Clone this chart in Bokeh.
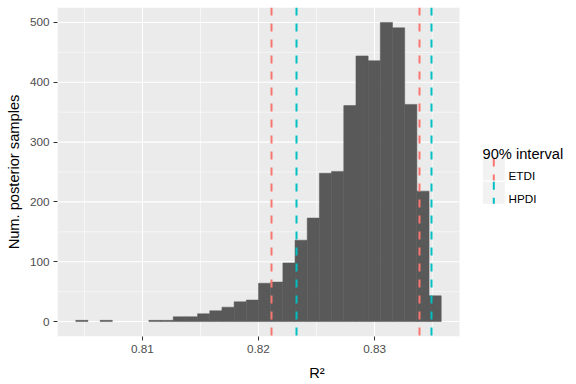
import numpy as np
from bokeh.plotting import figure
from bokeh.models import Range1d, FixedTicker
from bokeh.embed import file_html
from bokeh.resources import INLINE
from bokeh.core.properties import value

# ---------------- data ----------------
BIN_START = 0.80427
BIN_WIDTH = 0.001049
COUNTS = [2, 0, 2, 0, 0, 0, 2, 2, 8, 8, 13, 18, 24, 33, 36, 64, 66, 98,
          136, 173, 248, 251, 361, 444, 436, 500, 491, 363, 218, 43]

INTERVAL_NAMES = ["ETDI", "HPDI"]
INTERVAL_COLORS = ["#F8766D", "#00BFC4"]
INTERVAL_LOWER = [0.82109, 0.82330]
INTERVAL_UPPER = [0.83384, 0.83487]

X_TICKS = [0.81, 0.82, 0.83]
X_MINOR = [0.805, 0.815, 0.825, 0.835]
Y_TICKS = [0, 100, 200, 300, 400, 500]
Y_MINOR = [50, 150, 250, 350, 450]
LEGEND_TITLE = "90% interval"
X_LABEL = "R²"
Y_LABEL = "Num. posterior samples"

FONT = "Liberation Sans"

# ---------------- layout sizes (pixels) ----------------
W, H = 576, 384
BORDER_L, BORDER_T, BORDER_B = 57, 7, 48
FRAME_W, FRAME_H = W - BORDER_L, H - BORDER_T - BORDER_B
PANEL_W = 402          # grey panel width, the rest of the frame holds the legend

# ---------------- scales ----------------
counts = np.array(COUNTS)
left = BIN_START + BIN_WIDTH * np.arange(len(COUNTS))
right = left + BIN_WIDTH
xmin, xmax = left[0], right[-1]
xpad = 0.05 * (xmax - xmin)
x_lo, x_hi = xmin - xpad, xmax + xpad
ymax = counts.max()

p = figure(width=W, height=H, output_backend="svg", toolbar_location=None,
           x_range=Range1d(x_lo, x_lo + (x_hi - x_lo) * FRAME_W / PANEL_W),
           y_range=Range1d(-0.05 * ymax, 1.05 * ymax),
           min_border_left=BORDER_L, min_border_right=0, min_border_top=BORDER_T,
           min_border_bottom=BORDER_B)
p.extra_x_ranges = {"px": Range1d(0, FRAME_W)}
p.extra_y_ranges = {"px": Range1d(FRAME_H, 0)}
p.background_fill_color = "white"
p.border_fill_color = "white"
p.outline_line_color = None

# grey panel
p.quad(left=[0], right=[PANEL_W], top=[0], bottom=[FRAME_H],
       x_range_name="px", y_range_name="px",
       fill_color="#EBEBEB", line_color=None, level="image")

# vertical grid lines (ticks all lie inside the panel)
p.xgrid.ticker = FixedTicker(ticks=X_TICKS, minor_ticks=X_MINOR)
p.xgrid.grid_line_color = "white"
p.xgrid.grid_line_width = 1.1
p.xgrid.minor_grid_line_color = "white"
p.xgrid.minor_grid_line_width = 0.55
# horizontal grid lines only across the panel
p.ygrid.visible = False
p.segment(x0=0, x1=PANEL_W, y0=Y_MINOR, y1=Y_MINOR, x_range_name="px",
          line_color="white", line_width=0.55, level="underlay")
p.segment(x0=0, x1=PANEL_W, y0=Y_TICKS, y1=Y_TICKS, x_range_name="px",
          line_color="white", line_width=1.1, level="underlay")

p.xaxis.ticker = FixedTicker(ticks=X_TICKS)
p.yaxis.ticker = FixedTicker(ticks=Y_TICKS)
for ax in (p.xaxis, p.yaxis):
    ax.axis_line_color = None
    ax.minor_tick_line_color = None
    ax.major_tick_in = 0
    ax.major_tick_out = 4
    ax.major_tick_line_color = "#333333"
    ax.major_label_text_font = FONT
    ax.major_label_text_font_size = "11.73px"
    ax.major_label_text_color = "#4D4D4D"
    ax.axis_label_text_font = FONT
    ax.axis_label_text_font_size = "14.67px"
    ax.axis_label_text_font_style = "normal"
    ax.axis_label_text_color = "black"
p.xaxis.axis_label = X_LABEL
p.yaxis.axis_label = Y_LABEL
p.xaxis.major_label_standoff = 4
p.xaxis.axis_label_standoff = 9
p.yaxis.major_label_standoff = 4
p.yaxis.axis_label_standoff = 5

# histogram: only non-empty bins (thin same-colour outline hides seams)
nz = counts > 0
p.quad(left=left[nz], right=right[nz], top=counts[nz], bottom=0,
       fill_color="#595959", line_color="#595959", line_width=0.5)

# interval lines
for lo, hi, col in zip(INTERVAL_LOWER, INTERVAL_UPPER, INTERVAL_COLORS):
    p.vspan(x=[lo, hi], line_color=col, line_width=2, line_dash="8 8")

# ---------------- legend (frame pixel coordinates) ----------------
KEY = 22
key_x0 = PANEL_W + 23.3
key_tops = [151 + i * (KEY + 1.3) for i in range(len(INTERVAL_NAMES))]
p.quad(left=key_x0, right=key_x0 + KEY,
       top=key_tops, bottom=[t + KEY for t in key_tops],
       x_range_name="px", y_range_name="px",
       fill_color="#F2F2F2", line_color=None)
p.segment(x0=key_x0 + KEY / 2, x1=key_x0 + KEY / 2,
          y0=key_tops, y1=[t + KEY for t in key_tops],
          x_range_name="px", y_range_name="px",
          line_color=INTERVAL_COLORS, line_width=2, line_dash="8 8")
p.text(x=[key_x0 + KEY + 3.7] * len(INTERVAL_NAMES),
       y=[t + 17 for t in key_tops], text=INTERVAL_NAMES,
       x_range_name="px", y_range_name="px",
       text_font=value(FONT), text_font_size="11.73px", text_color="black",
       text_align="left", text_baseline="alphabetic")
p.text(x=[key_x0 - 0.3], y=[146], text=[LEGEND_TITLE],
       x_range_name="px", y_range_name="px",
       text_font=value(FONT), text_font_size="14.67px", text_color="black",
       text_align="left", text_baseline="alphabetic")

open("out.html", "w").write(file_html(p, INLINE))
